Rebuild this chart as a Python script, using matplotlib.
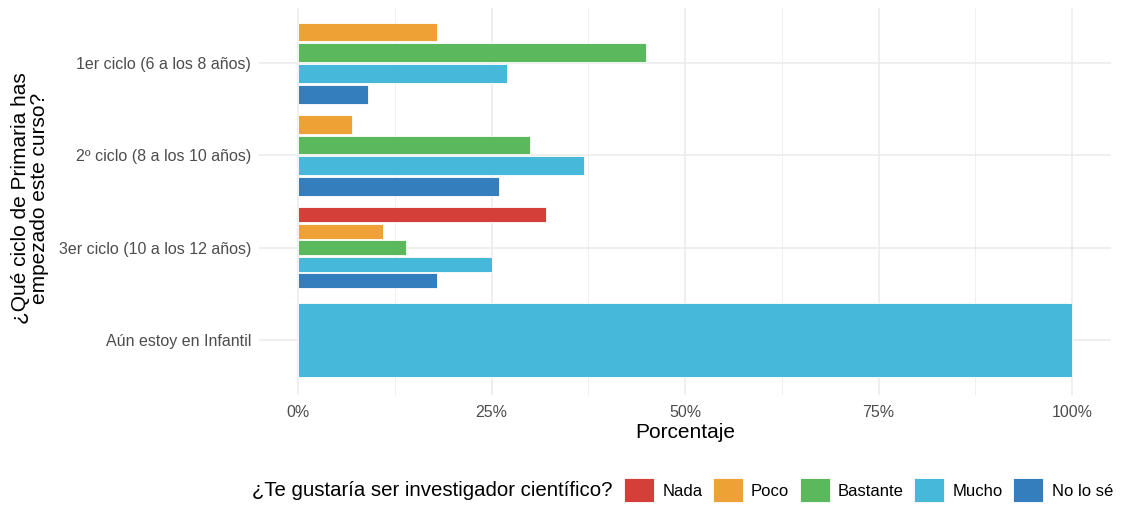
import numpy as np
import matplotlib.pyplot as plt
from matplotlib.patches import Patch
from matplotlib.ticker import FuncFormatter, MultipleLocator

plt.rcParams['font.family'] = ['Liberation Sans', 'DejaVu Sans']

# Datos (porcentaje por ciclo y respuesta)
categorias = ["1er ciclo (6 a los 8 años)", "2º ciclo (8 a los 10 años)",
              "3er ciclo (10 a los 12 años)", "Aún estoy en Infantil"]
respuestas = ["Nada", "Poco", "Bastante", "Mucho", "No lo sé"]
nada = [None, None, 32, None]
poco = [18, 7, 11, None]
bastante = [45, 30, 14, None]
mucho = [27, 37, 25, 100]
no_lo_se = [9, 26, 18, None]
series = [nada, poco, bastante, mucho, no_lo_se]
colores = ["#D43F3A", "#EEA236", "#5CB85C", "#46B8DA", "#357EBD"]

fig = plt.figure(figsize=(11.29, 5.08), dpi=100)
ax = fig.add_axes([0.2298, 0.2217, 0.7540, 0.7633])

n_cat = len(categorias)
ancho = 0.9
relleno = 0.1  # separación entre barras de un mismo grupo
for j, cat in enumerate(categorias):
    yc = n_cat - j
    presentes = [i for i, s in enumerate(series) if s[j] is not None]
    h = ancho / len(presentes)
    for k, i in enumerate(presentes):
        y = yc + ancho / 2 - (k + 0.5) * h
        ax.barh(y, series[i][j], height=h * (1 - relleno), color=colores[i],
                edgecolor='white', linewidth=0.6, zorder=3)

ax.set_xlim(-5, 105)
ax.set_ylim(0.4, n_cat + 0.6)
ax.set_yticks(np.arange(n_cat, 0, -1))
ax.set_yticklabels(categorias)
ax.xaxis.set_major_locator(MultipleLocator(25))
ax.xaxis.set_minor_locator(MultipleLocator(12.5))
ax.xaxis.set_major_formatter(FuncFormatter(lambda v, p: f"{v:.0f}%"))

ax.grid(True, which='major', color='#EBEBEB', linewidth=1.1, zorder=0)
ax.grid(True, which='minor', axis='x', color='#EBEBEB', linewidth=0.55, zorder=0)
for s in ax.spines.values():
    s.set_visible(False)
ax.tick_params(which='both', length=0, labelsize=11.5, labelcolor='#4D4D4D')
ax.tick_params(axis='y', pad=6)
ax.tick_params(axis='x', pad=7)

ax.set_xlabel("Porcentaje", fontsize=15, labelpad=2)
fig.text(0.0265, 0.61, "¿Qué ciclo de Primaria has\nempezado este curso?",
         rotation=90, ha='center', va='center', fontsize=15,
         multialignment='center', linespacing=1.05)

# Leyenda inferior
fig.text(252 / 1129, 0.035, "¿Te gustaría ser investigador científico?",
         ha='left', va='center', fontsize=14.7)
handles = [Patch(facecolor=c, edgecolor='white', linewidth=0.6) for c in colores]
fig.legend(handles, respuestas, loc='center left',
           bbox_to_anchor=(624 / 1129, 0.035), ncol=5, frameon=False,
           fontsize=12, handlelength=1.8, handleheight=1.8,
           handletextpad=0.5, columnspacing=0.62, borderpad=0,
           borderaxespad=0)

fig.savefig("out.png", dpi=100, facecolor='white')
